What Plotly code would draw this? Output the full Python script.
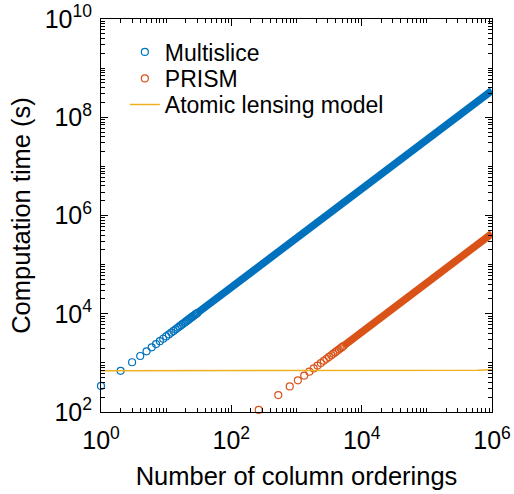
import plotly.graph_objects as go

# ---- data ----
# Multislice: individual markers at small orderings (then a dense band of markers)
ms_x = [1, 2, 3, 4, 5, 6, 7, 8, 9, 10, 11, 12, 13, 14, 15, 16, 17, 18, 19, 20,
        21, 22, 23, 24, 25, 26, 27, 28, 29, 30]
ms_y = [340, 690, 1030, 1380, 1720, 2070, 2410, 2760, 3100, 3450, 3790, 4140,
        4480, 4830, 5170, 5520, 5860, 6210, 6550, 6900, 7240, 7590, 7930, 8280,
        8620, 8970, 9310, 9660, 10000, 10350]
# dense part of the Multislice markers (start / end of the solid band)
ms_band_x = [30, 1000000]
ms_band_y = [10350, 350000000]

# PRISM: individual markers, then dense band
pr_x = [263, 525, 788, 1050, 1313, 1575, 1838, 2100, 2363, 2625, 2888, 3150,
        3413, 3675, 3938, 4200, 4463, 4725, 4988, 5250]
pr_y = [110, 221, 331, 441, 551, 662, 772, 882, 992, 1100, 1210, 1320,
        1430, 1540, 1650, 1760, 1870, 1980, 2090, 2200]
pr_band_x = [5250, 1000000]
pr_band_y = [2200, 430000]

# Atomic lensing model
al_x = [1, 10000, 100000, 300000, 600000, 1000000]
al_y = [690, 690, 693, 700, 711, 725]

C_MS = "#0072BD"
C_PR = "#D95319"
C_AL = "#EDB120"
FONT = "Liberation Sans, Arial, sans-serif"

fig = go.Figure()

fig.add_trace(go.Scatter(x=ms_band_x, y=ms_band_y, mode="lines",
                         line=dict(color=C_MS, width=7.5), showlegend=False,
                         hoverinfo="skip"))
fig.add_trace(go.Scatter(x=pr_band_x, y=pr_band_y, mode="lines",
                         line=dict(color=C_PR, width=7.5), showlegend=False,
                         hoverinfo="skip"))
fig.add_trace(go.Scatter(x=ms_x, y=ms_y, mode="markers", name="Multislice",
                         marker=dict(symbol="circle-open", size=7, color=C_MS,
                                     line=dict(width=1.2, color=C_MS)),
                         cliponaxis=False, legend="legend"))
fig.add_trace(go.Scatter(x=pr_x, y=pr_y, mode="markers", name="PRISM",
                         marker=dict(symbol="circle-open", size=7, color=C_PR,
                                     line=dict(width=1.2, color=C_PR)),
                         cliponaxis=False, legend="legend2"))
fig.add_trace(go.Scatter(x=al_x, y=al_y, mode="lines", name="Atomic lensing model",
                         line=dict(color=C_AL, width=1.5), legend="legend3"))


def minor_vals(lo, hi, majors):
    vals = []
    for e in range(lo, hi):
        for d in range(1, 10):
            v = d * 10 ** e
            if v not in majors:
                vals.append(v)
    return vals


x_major = [1, 100, 10000, 1000000]
y_major = [100, 10000, 1000000, 100000000, 10000000000]

axis_common = dict(type="log", showline=True, linecolor="black", linewidth=1,
                   mirror="ticks", ticks="inside", ticklen=7, tickwidth=1,
                   tickcolor="black", showgrid=False, zeroline=False,
                   automargin=False,
                   tickfont=dict(family=FONT, size=25, color="black"))

fig.update_xaxes(range=[0, 6], tickmode="array", tickvals=x_major,
                 ticktext=["10<sup>%d</sup>" % e for e in [0, 2, 4, 6]],
                 ticklabelstandoff=6,
                 minor=dict(tickmode="array", tickvals=minor_vals(0, 6, x_major),
                            ticks="inside", ticklen=4, tickcolor="black", showgrid=False),
                 title=dict(text="Number of column orderings", standoff=14,
                            font=dict(family=FONT, size=25.5, color="black")),
                 **axis_common)
fig.update_yaxes(range=[2, 10], tickmode="array", tickvals=y_major,
                 ticktext=["10<sup>%d</sup>" % e for e in [2, 4, 6, 8, 10]],
                 ticklabelstandoff=3,
                 minor=dict(tickmode="array", tickvals=minor_vals(2, 10, y_major),
                            ticks="inside", ticklen=4, tickcolor="black", showgrid=False),
                 title=dict(text="Computation time (s)", standoff=6,
                            font=dict(family=FONT, size=25.5, color="black")),
                 **axis_common)

W, H = 514, 494
L, R, T, B = 101, 22, 19, 82
PW, PH = W - L - R, H - T - B
leg_common = dict(xanchor="left", yanchor="middle", bgcolor="rgba(0,0,0,0)",
                  font=dict(family=FONT, size=23, color="black"))
fig.update_layout(
    width=W, height=H,
    margin=dict(l=L, r=R, t=T, b=B),
    paper_bgcolor="white", plot_bgcolor="white",
    font=dict(family=FONT, color="black"),
    legend=dict(x=0.061, y=(412 - 52) / PH, **leg_common),
    legend2=dict(x=0.061, y=(412 - 78.5) / PH, **leg_common),
    legend3=dict(x=0.061, y=(412 - 104.5) / PH, **leg_common),
)

# remove the default page margin so the figure sits at the window's top-left
fig.write_html("out.html", config={"displayModeBar": False},
               post_script="document.body.style.margin='0';document.body.style.overflow='hidden';")
